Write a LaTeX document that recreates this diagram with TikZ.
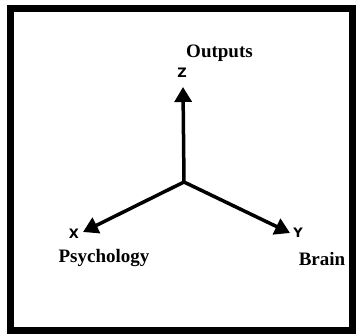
\documentclass[tikz,border=0pt]{standalone}
\usepackage{fontspec}
\setmainfont{Liberation Serif}
\newfontfamily\letterfont{DejaVu Sans}
\usetikzlibrary{arrows.meta}

\tikzset{
  axisarrow/.style={line width=3.5pt,-{Triangle[length=15pt,width=17pt]}},
  axisletter/.style={inner sep=0pt,font=\letterfont\bfseries\fontsize{13}{13}\selectfont},
  axisname/.style={inner sep=0pt,anchor=base,font=\bfseries\fontsize{19}{20}\selectfont}
}

\begin{document}
\begin{tikzpicture}[x=1pt,y=1pt]
    \useasboundingbox (0,0) rectangle (356,333);
    \draw[line width=7pt] (10.5,324) rectangle (352.5,2.5);

    \coordinate (O) at (184,151);
    \coordinate (Ztip) at (183,246);
    \coordinate (Xtip) at (83,101);
    \coordinate (Ytip) at (290,100);

    \node[axisletter] (Z) at (182,260) {Z};
    \node[axisletter] (X) at (74,99) {X};
    \node[axisletter] (Y) at (298,100) {Y};

    \node[axisname] (outputs) at (219.5,276) {Outputs};
    \node[axisname] (psychology) at (104,71) {Psychology};
    \node[axisname] (brain) at (322,68) {Brain};

    \draw[axisarrow] (O) -- (Ztip);
    \draw[axisarrow] (O) -- (Xtip);
    \draw[axisarrow] (O) -- (Ytip);
\end{tikzpicture}
\end{document}
